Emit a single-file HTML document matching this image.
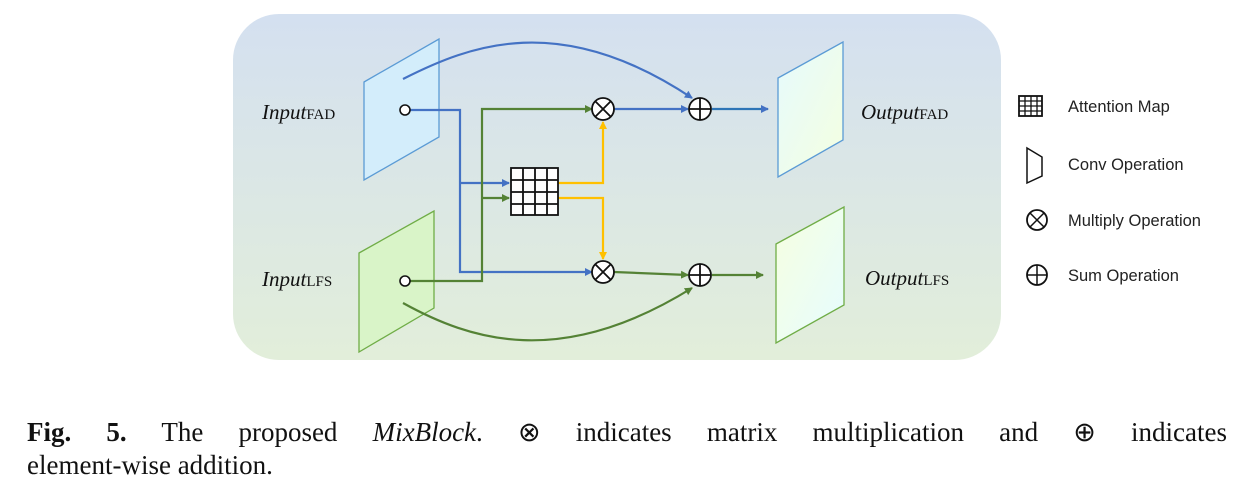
<!DOCTYPE html>
<html><head><meta charset="utf-8"><style>
body{margin:0;width:1245px;height:492px;background:#fff;overflow:hidden;position:relative}
svg{position:absolute;left:0;top:0}
.cap{position:absolute;left:27px;width:1200px;font-family:"Liberation Serif",serif;font-size:27px;color:#111;white-space:nowrap}
</style></head><body>
<svg width="1245" height="492" viewBox="0 0 1245 492">
<defs>
<linearGradient id="bg" x1="0" y1="0" x2="0" y2="1"><stop offset="0" stop-color="#d4e0f0"/><stop offset="1" stop-color="#e2eeda"/></linearGradient>
<linearGradient id="ob" x1="0" y1="0" x2="1" y2="1"><stop offset="0" stop-color="#e6fafd"/><stop offset="1" stop-color="#f4ffe0"/></linearGradient>
<linearGradient id="ol" x1="0" y1="0" x2="1" y2="1"><stop offset="0" stop-color="#f6ffe0"/><stop offset="1" stop-color="#e6fcff"/></linearGradient>
<marker id="ab" markerWidth="8" markerHeight="8" refX="7" refY="4" orient="auto" markerUnits="userSpaceOnUse"><path d="M0,0L8,4L0,8z" fill="#4472c4"/></marker>
<marker id="ag" markerWidth="8" markerHeight="8" refX="7" refY="4" orient="auto" markerUnits="userSpaceOnUse"><path d="M0,0L8,4L0,8z" fill="#548235"/></marker>
<marker id="ay" markerWidth="8" markerHeight="8" refX="7" refY="4" orient="auto" markerUnits="userSpaceOnUse"><path d="M0,0L8,4L0,8z" fill="#ffc000"/></marker>
</defs>
<rect x="233" y="14" width="768" height="346" rx="46" fill="url(#bg)"/>
<polygon points="364,82 439,39 439,137 364,180" fill="#d3edfb" stroke="#5b9bd5" stroke-width="1.3"/>
<polygon points="359,253 434,211 434,308 359,352" fill="#d9f4c8" stroke="#70ad47" stroke-width="1.3"/>
<polygon points="778,78 843,42 843,140 778,177" fill="url(#ob)" stroke="#5b9bd5" stroke-width="1.3"/>
<polygon points="776,244 844,207 844,305 776,343" fill="url(#ol)" stroke="#70ad47" stroke-width="1.3"/>
<g fill="none" stroke-width="2.2">
<path d="M403,79 C470,45 560,10 692,98" stroke="#4472c4" marker-end="url(#ab)"/>
<path d="M410,110 H460 V272 H592" stroke="#4472c4" marker-end="url(#ab)"/>
<path d="M460,183 H509" stroke="#4472c4" marker-end="url(#ab)"/>
<path d="M614,109 H688" stroke="#4472c4" marker-end="url(#ab)"/>
<path d="M712,109 H768" stroke="#2e75b6" marker-end="url(#ab)"/>
<path d="M410,281 H482 V109 H592" stroke="#548235" marker-end="url(#ag)"/>
<path d="M482,198 H509" stroke="#548235" marker-end="url(#ag)"/>
<path d="M614,272 L688,275" stroke="#548235" marker-end="url(#ag)"/>
<path d="M712,275 H763" stroke="#548235" marker-end="url(#ag)"/>
<path d="M403,303 C470,340 560,370 692,288" stroke="#548235" marker-end="url(#ag)"/>
<path d="M558,183 H603 V122" stroke="#ffc000" marker-end="url(#ay)"/>
<path d="M558,198 H603 V259" stroke="#ffc000" marker-end="url(#ay)"/>
</g>
<circle cx="405" cy="110" r="5" fill="#fff" stroke="#111" stroke-width="1.6"/>
<circle cx="405" cy="281" r="5" fill="#fff" stroke="#111" stroke-width="1.6"/>
<g stroke="#111" stroke-width="1.8" fill="none">
<rect x="511" y="168" width="47" height="47" fill="#fff"/>
<path d="M523,168V215M535,168V215M547,168V215M511,180H558M511,192H558M511,204H558"/>
<circle cx="603" cy="109" r="11" fill="#fff"/><path d="M595,101L611,117M611,101L595,117"/>
<circle cx="603" cy="272" r="11" fill="#fff"/><path d="M595,264L611,280M611,264L595,280"/>
<circle cx="700" cy="109" r="11" fill="#fff"/><path d="M689,109H711M700,98V120"/>
<circle cx="700" cy="275" r="11" fill="#fff"/><path d="M689,275H711M700,264V286"/>
<rect x="1019" y="96" width="23" height="20" fill="#fff"/>
<path d="M1025,96V116M1031,96V116M1037,96V116M1019,101H1042M1019,106H1042M1019,111H1042" stroke-width="1.3"/>
<path d="M1027,148L1042,157V176L1027,183Z" stroke-width="1.5"/>
<circle cx="1037" cy="220" r="10"/><path d="M1030,213L1044,227M1044,213L1030,227" stroke-width="1.5"/>
<circle cx="1037" cy="275" r="10"/><path d="M1027,275H1047M1037,265V285" stroke-width="1.5"/>
</g>
<g font-family="Liberation Serif,serif" font-style="italic" font-size="21" fill="#111">
<text x="262" y="119">Input<tspan font-style="normal" font-size="15">FAD</tspan></text>
<text x="262" y="286">Input<tspan font-style="normal" font-size="15">LFS</tspan></text>
<text x="861" y="119">Output<tspan font-style="normal" font-size="15">FAD</tspan></text>
<text x="865" y="285">Output<tspan font-style="normal" font-size="15">LFS</tspan></text>
</g>
<g font-family="Liberation Sans,sans-serif" font-size="16.5" fill="#222">
<text x="1068" y="112">Attention Map</text>
<text x="1068" y="170">Conv Operation</text>
<text x="1068" y="226">Multiply Operation</text>
<text x="1068" y="281">Sum Operation</text>
</g>
</svg>
<div class="cap" style="top:417px;text-align:justify;text-align-last:justify"><b>Fig. 5.</b> The proposed <i>MixBlock</i>. ⊗ indicates matrix multiplication and ⊕ indicates</div>
<div class="cap" style="top:450px">element-wise addition.</div>
</body></html>
